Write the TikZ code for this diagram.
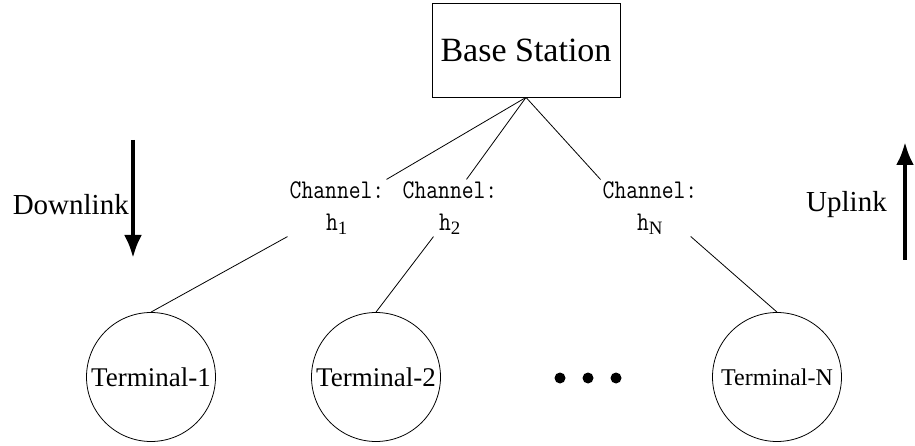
\documentclass[tikz,border=0pt]{standalone}
\usepackage{fontspec}
\setmainfont{Liberation Serif}
\newfontfamily\chanfont[FakeStretch=0.85]{Latin Modern Mono}
\usepackage{tikz}
\usetikzlibrary{arrows.meta,positioning}

\begin{document}
\begin{tikzpicture}[x=1pt,y=-1pt,>=Latex,
station/.style={draw,line width=0.8pt,minimum width=188pt,minimum height=94pt,font=\fontsize{34}{40}\selectfont},
term/.style={draw,circle,line width=0.8pt,minimum size=129pt,inner sep=0pt,font=\fontsize{27}{32}\selectfont},
chan/.style={align=center,inner sep=2pt,font=\chanfont\fontsize{27}{32}\selectfont},
dirlabel/.style={inner sep=0pt,font=\fontsize{29}{34}\selectfont},
dot/.style={circle,fill,minimum size=11pt,inner sep=0pt},
link/.style={line width=0.8pt},
arr/.style={line width=4pt,-{Latex[length=23pt,width=18pt]}}]
\useasboundingbox (0,0) rectangle (915,446);
\node[station] (bs) at (526,50) {Base Station};
% channel labels
\node[chan] (ch1) at (337,208) {Channel:\\h\textsubscript{\rmfamily 1}};
\node[chan] (ch2) at (450,208) {Channel:\\h\textsubscript{\rmfamily 2}};
\node[chan] (ch3) at (650,208) {Channel:\\h\textsubscript{\rmfamily N}};
% terminals
\node[term] (t1) at (151,377) {Terminal-1};
\node[term] (t2) at (376,377) {Terminal-2};
\node[term,font=\fontsize{24}{28}\selectfont] (tN) at (777,377) {Terminal-N};
\foreach \i/\x in {1/560,2/588,3/616}
  \node[dot] (dot\i) at (\x,378) {};
\draw[link] (bs.south) -- (ch1.north east);
\draw[link] (bs.south) -- (ch2.60);
\draw[link] (bs.south) -- (ch3.north west);
\draw[link] (ch1.south west) -- (t1.north);
\draw[link] (ch2.240) -- (t2.north);
\draw[link] (ch3.-35) -- (tN.north);
% link directions
\coordinate (dtop) at (133,140);
\coordinate (dbot) at (133,258);
\coordinate (ubot) at (905,260);
\coordinate (utop) at (905,142);
\draw[arr] (dtop) -- (dbot);
\draw[arr] (ubot) -- (utop);
\node[dirlabel,anchor=base east] (down) at (129,215) {Downlink};
\node[dirlabel,anchor=base west] (up) at (806,212) {Uplink};
\end{tikzpicture}
\end{document}
